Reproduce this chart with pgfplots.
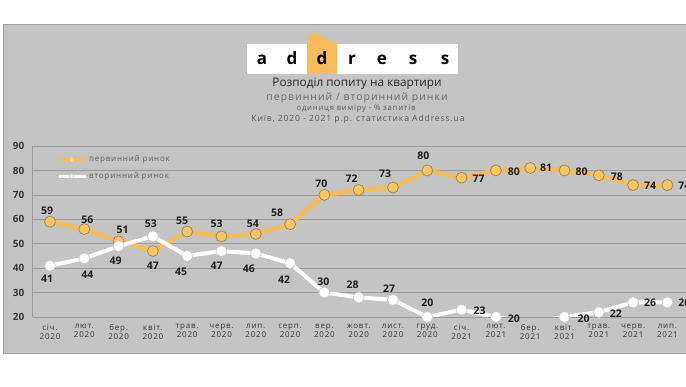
\documentclass[border=0pt]{standalone}
\usepackage{fontspec}
\setmainfont{Open Sans}
\newfontfamily\spaced[LetterSpace=10]{Open Sans}
\usepackage{pgfplots}
\usepackage{pgfplotstable}
\pgfplotsset{compat=1.18}
\definecolor{panel}{RGB}{196,196,196}
\definecolor{panelborder}{RGB}{160,160,160}
\definecolor{gridgray}{RGB}{155,155,155}
\definecolor{orangeline}{RGB}{245,188,91}
\definecolor{orangefill}{RGB}{247,198,100}
\definecolor{orangeedge}{RGB}{165,135,85}
\definecolor{logoorange}{RGB}{246,188,92}
\definecolor{labeltext}{RGB}{30,30,30}
\definecolor{ticktext}{RGB}{55,55,55}
\definecolor{legendtext}{RGB}{95,95,95}

\pgfplotstableread{
x y dx dy
0 59 -3 11
1 56 3 9.5
2 51 4 11
3 47 0 -15
4 55 -5 11
5 53 -5 12.5
6 54 -3 10.5
7 58 -13 11
8 70 -3 11.5
9 72 -7 11
10 73 -8 14
11 80 -4 15
12 77 17 -1
13 80 18 -1
14 81 16 0
15 80 17 -1
16 78 18 -1
17 74 17 -0.5
18 74 17 -0.5
}\pervinny

\pgfplotstableread{
x y
0 41
1 44
2 49
3 53
4 45
5 47
6 46
7 42
8 30
9 28
10 27
11 20
12 23
13 20
14 18
15 20
16 22
17 26
18 26
}\vtorinnyline

\pgfplotstableread{
x y dx dy
0 41 -3 -13
1 44 3 -16
2 49 -3 -15
3 53 -2 13
4 45 -6 -16
5 47 -5 -14.5
6 46 -7 -15
7 42 -6 -16
8 30 -1 11
9 28 -6 13
10 27 -4 11
11 20 0 14
12 23 18 -1
13 20 18 -2
14 nan 0 0
15 20 19 -2
16 22 17 -2
17 26 17 0
18 26 17 0
}\vtorinny

\begin{document}
\begin{tikzpicture}[x=1pt,y=1pt]
\useasboundingbox (0,0) rectangle (686,386);
\fill[white] (0,0) rectangle (686,386);
\draw[fill=panel, draw=panelborder, line width=0.8pt] (3,33) rectangle (700,362);
% logo
\fill[white] (247,312) rectangle (458,342);
\fill[logoorange] (307,312) -- (307,346) -- (313,354) -- (337,342) -- (337,312) -- cycle;
\foreach \lx/\lt in {262/a,292/d,322/d,352/r,382/e,413/s,445/s}{
  \node[anchor=base, inner sep=0pt, font=\bfseries\fontsize{17}{20}\selectfont, text=black] at (\lx,321.5) {\lt};
}
\node[font=\fontsize{11.8}{13}\selectfont, text=black!85] at (357,302) {Розподіл попиту на квартири};
\node[font=\spaced\fontsize{10.4}{12}\selectfont, text=black!58] at (357,288.5) {первинний / вторинний ринки};
\node[font=\spaced\fontsize{7.7}{9}\selectfont, text=black!65] at (356,277.5) {одиниця  виміру - \% запитів};
\node[font=\spaced\fontsize{8.6}{10}\selectfont, text=black!65] at (358,266.5) {Київ, 2020 - 2021 р.р. статистика  Address.ua};

\begin{axis}[
  at={(32.85pt,69pt)}, anchor=south west,
  scale only axis, width=668.85pt, height=171pt,
  xmin=-0.5, xmax=19, ymin=20, ymax=90,
  axis x line*=bottom, axis y line*=left,
  x axis line style={-, gridgray, line width=0.8pt},
  y axis line style={-, gridgray, line width=0.8pt},
  ytick={20,30,...,90},
  xtick={0,...,18},
  xticklabels={{січ.\\2020},{лют.\\2020},{бер.\\2020},{квіт.\\2020},{трав.\\2020},{черв.\\2020},{лип.\\2020},{серп.\\2020},{вер.\\2020},{жовт.\\2020},{лист.\\2020},{груд.\\2020},{січ.\\2021},{лют.\\2021},{бер.\\2021},{квіт.\\2021},{трав.\\2021},{черв.\\2021},{лип.\\2021}},
  major tick length=0pt,
  ymajorgrids, major grid style={gridgray, line width=0.7pt},
  /pgf/number format/assume math mode=true,
  yticklabel style={font=\bfseries\fontsize{10}{12}\selectfont, text=ticktext, xshift=-5pt},
  xticklabel style={font=\spaced\fontsize{8}{8.6}\selectfont, text=ticktext, align=center, yshift=-4pt},
  clip mode=individual,
  legend style={draw=none, fill=none, at={(axis description cs:0.036,0.955)}, anchor=north west,
    font=\spaced\fontsize{8}{10}\selectfont, text=legendtext, row sep=5pt, inner sep=0pt},
  legend cell align=left,
  legend image code/.code={\draw[mark repeat=2,mark phase=2,#1] plot coordinates {(0pt,0pt) (13pt,0pt) (27pt,0pt)};},
]
\addlegendimage{orangeline, line width=3pt, mark=*, mark size=2.5pt, mark options={fill=orangefill!70!white, draw=orangeline, line width=0.6pt}}
\addlegendentry{первинний ринок}
\addlegendimage{white, line width=3pt, mark=*, mark size=2pt, mark options={fill=white, draw=gray!40, line width=0.6pt}}
\addlegendentry{вторинний ринок}

\addplot[forget plot, orangeline, line width=4.5pt, mark=none] table[x=x,y=y] {\pervinny};
\addplot[forget plot, only marks, mark=*, mark size=5.5pt,
  mark options={fill=orangefill, draw=orangeedge, line width=0.8pt},
  point meta=explicit symbolic,
  visualization depends on={\thisrow{dx} \as \ldx},
  visualization depends on={\thisrow{dy} \as \ldy},
  nodes near coords,
  every node near coord/.append style={anchor=center, xshift=\ldx pt, yshift=\ldy pt,
    font=\bfseries\fontsize{10.5}{12}\selectfont, text=labeltext, inner sep=0pt}
] table[x=x,y=y,meta=y] {\pervinny};

\addplot[forget plot, white, line width=4pt, mark=none] table[x=x,y=y] {\vtorinnyline};
\addplot[forget plot, only marks, mark=*, mark size=5.5pt,
  mark options={fill=white, draw=gray!45, line width=0.6pt},
  point meta=explicit symbolic,
  visualization depends on={\thisrow{dx} \as \ldx},
  visualization depends on={\thisrow{dy} \as \ldy},
  nodes near coords,
  every node near coord/.append style={anchor=center, xshift=\ldx pt, yshift=\ldy pt,
    font=\bfseries\fontsize{10.5}{12}\selectfont, text=labeltext, inner sep=0pt}
] table[x=x,y=y,meta=y] {\vtorinny};
\end{axis}
\end{tikzpicture}
\end{document}
